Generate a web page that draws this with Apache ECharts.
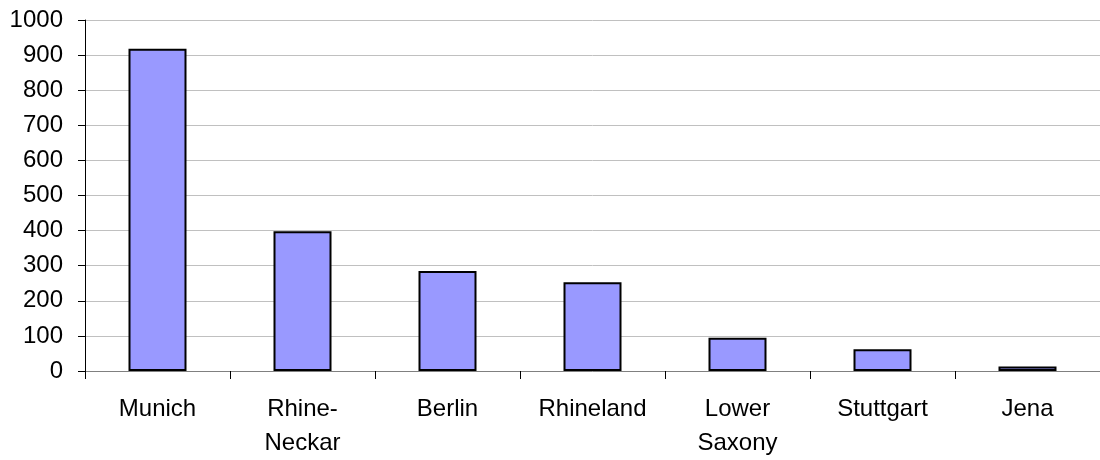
<!DOCTYPE html>
<html><head><meta charset="utf-8">
<script src="https://cdn.jsdelivr.net/npm/echarts@6/dist/echarts.min.js"></script>
<style>html,body{margin:0;padding:0;background:#fff}#c{width:1100px;height:460px}</style>
</head><body><div id="c"></div>
<script>
const categories = ["Munich", "Rhine-\nNeckar", "Berlin", "Rhineland", "Lower\nSaxony", "Stuttgart", "Jena"];
const values = [918, 398, 285, 253, 95, 62, 13];
const yTicks = { min: 0, max: 1000, interval: 100 };

const chart = echarts.init(document.getElementById('c'));
chart.setOption({
  animation: false,
  grid: { left: 85, right: -6, top: 20, bottom: 87, containLabel: false },
  xAxis: {
    type: 'category', data: categories,
    axisLine: { lineStyle: { color: '#808080', width: 1 } },
    axisTick: { show: true, alignWithLabel: false, length: 8, lineStyle: { color: '#000' } },
    axisLabel: { color: '#000', fontFamily: 'Liberation Sans', fontSize: 24, margin: 21, lineHeight: 34, interval: 0 }
  },
  yAxis: {
    type: 'value', min: yTicks.min, max: yTicks.max, interval: yTicks.interval,
    axisLine: { show: true, lineStyle: { color: '#000', width: 1 } },
    axisTick: { show: true, length: 7, lineStyle: { color: '#000' } },
    axisLabel: { color: '#000', fontFamily: 'Liberation Sans', fontSize: 24, margin: 22, formatter: v => String(v) },
    splitLine: { lineStyle: { color: '#c0c0c0', width: 1 } }
  },
  series: [{
    type: 'bar', data: values, barWidth: 58,
    itemStyle: { color: '#9999FF', borderColor: '#000', borderWidth: 2 }
  }]
});
</script></body></html>
